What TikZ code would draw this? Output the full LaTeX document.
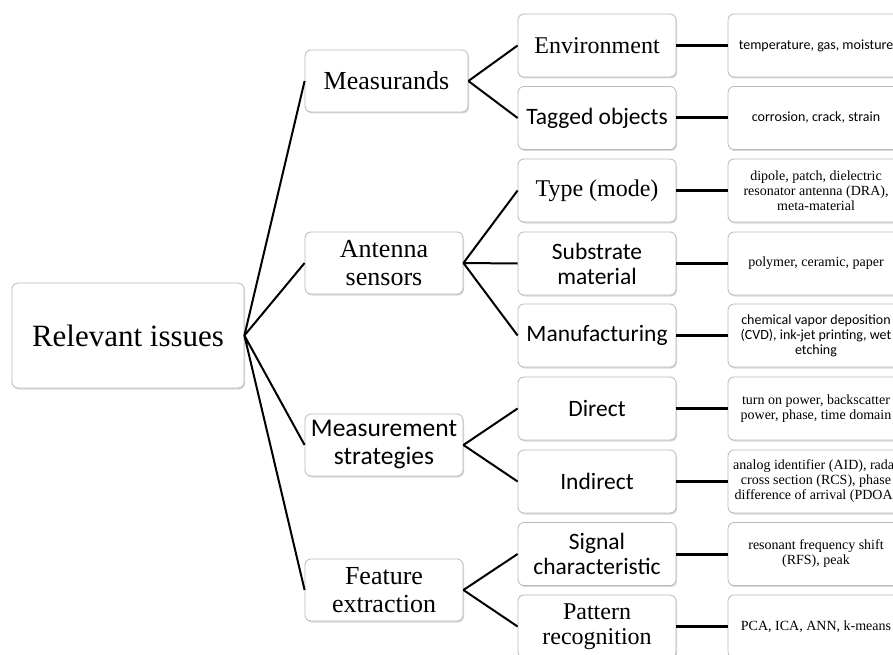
\documentclass[tikz,border=0pt]{standalone}
\usepackage{fontspec}
\setmainfont{Liberation Serif}
\newfontfamily\calibri{Carlito}
\usetikzlibrary{shadows}

\begin{document}
\begin{tikzpicture}[x=1pt,y=-1pt,
            box/.style={draw=gray!55,fill=white,rounded corners=6pt,line width=0.8pt,
              drop shadow={shadow xshift=1pt,shadow yshift=-1.5pt,opacity=0.3},
              align=center,inner sep=2pt},
            lvla/.style={box,minimum width=158pt,minimum height=62pt},
            lvlb/.style={box,minimum width=158pt,minimum height=63pt},
            lvlc/.style={box,minimum width=176pt,minimum height=63pt},
            sera/.style={font=\fontsize{26}{28}\selectfont},
            sansa/.style={font=\calibri\fontsize{25.5}{28}\selectfont},
            serb/.style={font=\fontsize{24}{25}\selectfont},
            sansb/.style={font=\calibri\fontsize{23.5}{25}\selectfont},
            serc/.style={font=\fontsize{14}{15}\selectfont},
            sansc/.style={font=\calibri\fontsize{14}{15}\selectfont},
            thin/.style={line width=2pt},
            thick/.style={line width=3pt}]
            \useasboundingbox (0,0) rectangle (893,655);
            \clip (0,0) rectangle (893,655);

            % root
            \node[box,minimum width=232pt,minimum height=105pt,font=\fontsize{31}{33}\selectfont]
              (R) at (128,335.5) {Relevant issues};

            % first level
            \node[lvla,sera,minimum width=163pt] (M) at (386.5,81)  {Measurands};
            \node[lvla,sera]  (A) at (384,263) {Antenna\\sensors};
            \node[lvla,sansa] (S) at (384,445) {Measurement\\strategies};
            \node[lvla,sera]  (F) at (384,590) {Feature\\extraction};

            % second level
            \node[lvlb,serb]  (M1) at (597,45.5)  {Environment};
            \node[lvlb,sansb] (M2) at (597,118)   {Tagged objects};
            \node[lvlb,serb]  (A1) at (597,190.5) {Type (mode)};
            \node[lvlb,sansb] (A2) at (597,263.5) {Substrate\\material};
            \node[lvlb,sansb] (A3) at (597,335.5) {Manufacturing};
            \node[lvlb,sansb] (S1) at (597,408.5) {Direct};
            \node[lvlb,sansb] (S2) at (597,481.5) {Indirect};
            \node[lvlb,sansb] (F1) at (597,554)   {Signal\\characteristic};
            \node[lvlb,serb]  (F2) at (597,626.5) {Pattern\\recognition};

            % third level
            \node[lvlc,sansc] (M1x) at (816,45.5)  {temperature, gas, moisture};
            \node[lvlc,sansc] (M2x) at (816,118)   {corrosion, crack, strain};
            \node[lvlc,serc]  (A1x) at (816,190.5) {dipole, patch, dielectric\\resonator antenna (DRA),\\meta-material};
            \node[lvlc,serc]  (A2x) at (816,263.5) {polymer, ceramic, paper};
            \node[lvlc,sansc] (A3x) at (816,335.5) {chemical vapor deposition\\(CVD), ink-jet printing, wet\\etching};
            \node[lvlc,serc]  (S1x) at (816,408.5) {turn on power, backscatter\\power, phase, time domain};
            \node[lvlc,serc]  (S2x) at (816,481.5) {analog identifier (AID), radar\\cross section (RCS), phase\\difference of arrival (PDOA)};
            \node[lvlc,serc]  (F1x) at (816,554)   {resonant frequency shift\\(RFS), peak};
            \node[lvlc,serc]  (F2x) at (816,626.5) {PCA, ICA, ANN, k-means};

            % connectors
            \draw[thin] (R.east) -- (M.west)
                        (R.east) -- (A.west)
                        (R.east) -- (S.west)
                        (R.east) -- (F.west);
            \draw[thin] (M.east) -- (M1.west) (M.east) -- (M2.west)
                        (A.east) -- (A1.west) (A.east) -- (A2.west) (A.east) -- (A3.west)
                        (S.east) -- (S1.west) (S.east) -- (S2.west)
                        (F.east) -- (F1.west) (F.east) -- (F2.west);
            \draw[thick] (M1) -- (M1x) (M2) -- (M2x)
                         (A1) -- (A1x) (A2) -- (A2x) (A3) -- (A3x)
                         (S1) -- (S1x) (S2) -- (S2x)
                         (F1) -- (F1x) (F2) -- (F2x);
\end{tikzpicture}
\end{document}
